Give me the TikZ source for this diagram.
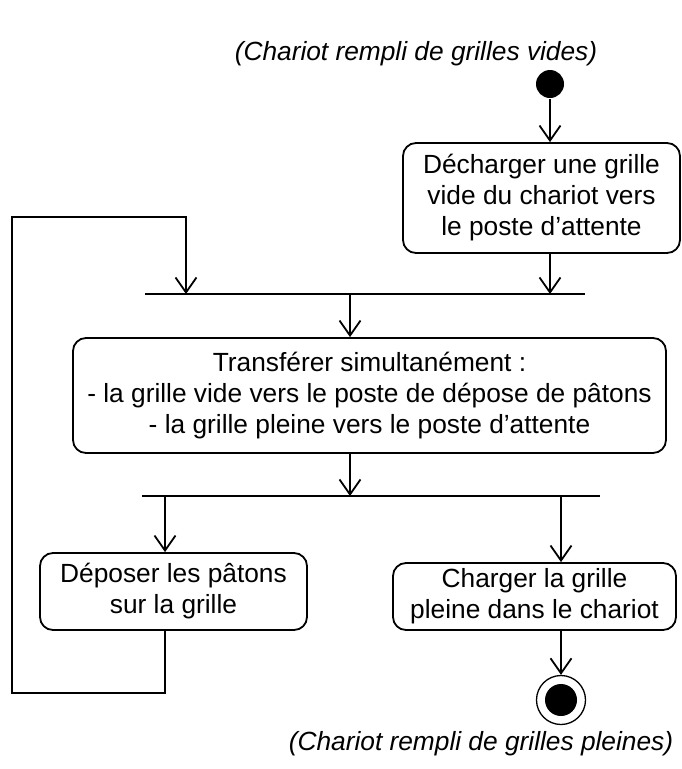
\documentclass[tikz,border=0pt]{standalone}
\usepackage{fontspec}
\setmainfont{Liberation Sans}
\usetikzlibrary{arrows.meta,positioning}

\begin{document}
\begin{tikzpicture}[x=1pt,y=-1pt,>={Straight Barb[length=15pt,width=21pt]},line width=1.8pt]
      \tikzstyle{activity}=[draw,rounded corners=13pt,align=center,inner sep=0pt,font=\fontsize{26.3}{31}\selectfont]
      \tikzstyle{startnode}=[circle,fill=black,minimum size=28pt,inner sep=0pt]
      \tikzstyle{endnode}=[circle,draw,line width=1.3pt,minimum size=49pt,inner sep=0pt,
        path picture={\fill (path picture bounding box.center) circle (16pt);}]
      \tikzstyle{note}=[font=\fontsize{26.3}{31}\selectfont\itshape]

      \useasboundingbox (0,0) rectangle (681,769);

      \node[note]      (top)      at (416,54)    {(Chariot rempli de grilles vides)};
      \node[startnode] (start)    at (550,84)    {};
      \node[activity,minimum width=277pt,minimum height=110pt] (unload)   at (541.5,198)
            {Décharger une grille\\vide du chariot vers\\le poste d’attente};
      \node[activity,minimum width=593pt,minimum height=115pt] (transfer) at (369.5,395.5)
            {Transférer simultanément :\\- la grille vide vers le poste de dépose de pâtons\\- la grille pleine vers le poste d’attente};
      \node[activity,minimum width=267pt,minimum height=77pt]  (depose)   at (173.5,591.5)
            {Déposer les pâtons\\sur la grille};
      \node[activity,minimum width=283pt,minimum height=67pt]  (charge)   at (534.5,596.5)
            {Charger la grille\\pleine dans le chariot};
      \node[endnode]   (fin)      at (561,700)   {};
      \node[note]      (bottom)   at (481,744)   {(Chariot rempli de grilles pleines)};

      % join and fork bars
      \coordinate (jl) at (145,294);
      \coordinate (jr) at (585,294);
      \coordinate (jm) at (350,294);
      \coordinate (jb) at (186,294);
      \coordinate (fl) at (142,496);
      \coordinate (fr) at (600,496);
      \coordinate (fa) at (165,496);
      \coordinate (fb) at (561,496);
      \coordinate (lp1) at (12,693);
      \coordinate (lp2) at (12,217);

      \draw (jl) -- (jr);
      \draw (fl) -- (fr);

      \draw[->] (start) -- (start |- unload.north);
      \draw[->] (start |- unload.south) -- (start |- jr);
      \draw[->] (jm) -- (jm |- transfer.north);
      \draw[->] (jm |- transfer.south) -- (jm |- fl);
      \draw[->] (fa) -- (fa |- depose.north);
      \draw[->] (fb) -- (fb |- charge.north);
      \draw[->] (fb |- charge.south) -- (fin);
      \draw[->] (fa |- depose.south) |- (lp1) -- (lp2) -| (jb);
\end{tikzpicture}
\end{document}
